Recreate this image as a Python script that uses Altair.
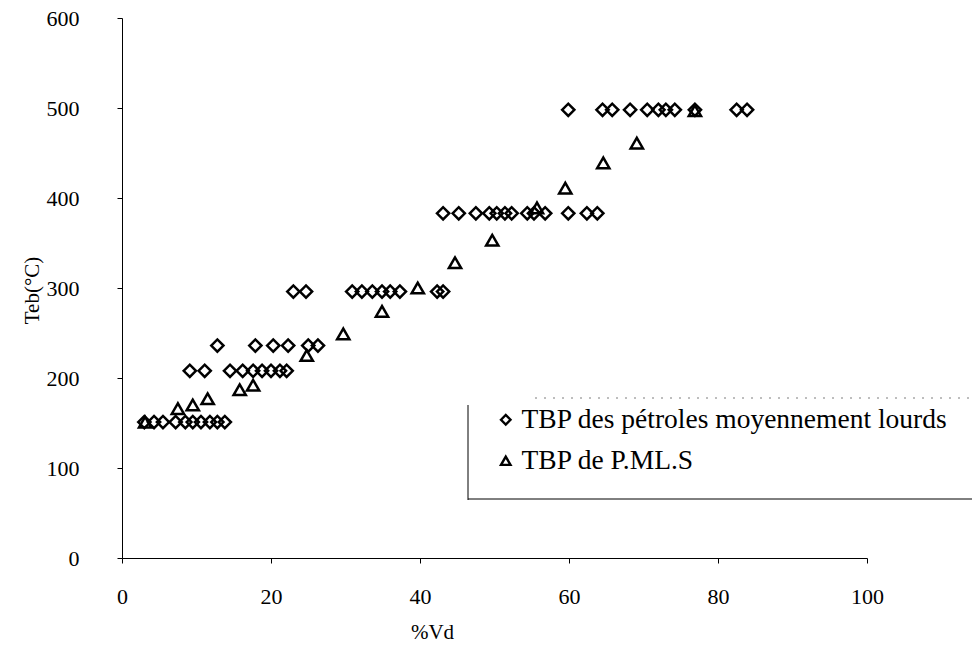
import altair as alt
import pandas as pd

# Boiling temperature (°C) vs distilled volume (%), two series
series_names = ["TBP des pétroles moyennement lourds", "TBP de P.ML.S"]

# Medium-heavy crudes: cut points grouped by temperature level
diamond_x = [3.0, 4.3, 5.5, 7.2, 8.5, 9.5, 10.6, 11.8, 12.8, 13.8,
             9.1, 11.1, 14.5, 16.2, 17.6, 18.8, 20.0, 21.2, 22.1,
             12.8, 17.9, 20.3, 22.3, 25.0, 26.3,
             23.0, 24.7, 30.9, 32.2, 33.6, 34.9, 36.0, 37.3, 42.3, 43.1,
             43.1, 45.2, 47.5, 49.3, 50.3, 51.4, 52.3, 54.4, 55.3, 56.8, 59.9, 62.4, 63.8,
             59.9, 64.5, 65.8, 68.2, 70.5, 72.0, 73.0, 74.2, 76.9, 82.5, 83.9]
diamond_y = [151] * 10 + [208] * 9 + [236] * 6 + [296] * 10 + [383] * 13 + [498] * 11

# P.ML.S curve
triangle_x = [3.1, 7.5, 9.5, 11.5, 15.8, 17.6, 24.8, 29.7, 34.9, 39.7,
              44.7, 49.7, 55.7, 59.5, 64.6, 69.1, 76.9]
triangle_y = [151, 166, 170, 177, 187, 192, 225, 249, 274, 300,
              328, 353, 389, 411, 439, 461, 497]

x_ticks = [0, 20, 40, 60, 80, 100]
y_ticks = [0, 100, 200, 300, 400, 500, 600]

df = pd.concat([
    pd.DataFrame({"vd": diamond_x, "teb": diamond_y, "serie": series_names[0]}),
    pd.DataFrame({"vd": triangle_x, "teb": triangle_y, "serie": series_names[1]}),
], ignore_index=True)

FONT = "Liberation Serif"

points = alt.Chart(df).mark_point(
    filled=False, color="black", strokeWidth=2.5, size=150, opacity=1
).encode(
    x=alt.X("vd:Q",
            scale=alt.Scale(domain=[0, 100], nice=False),
            axis=alt.Axis(values=x_ticks, title="%Vd", grid=False,
                          labelPadding=23, titleX=310, titleY=74,
                          titleAlign="center", titleBaseline="middle")),
    y=alt.Y("teb:Q",
            scale=alt.Scale(domain=[0, 600], nice=False),
            axis=alt.Axis(values=y_ticks, title="Teb(°C)", grid=False,
                          labelPadding=38, titleX=-90, titleY=272,
                          titleAngle=-90, titleAlign="center",
                          titleBaseline="middle")),
    shape=alt.Shape("serie:N",
                    scale=alt.Scale(domain=series_names,
                                    range=["diamond", "triangle-up"]),
                    legend=alt.Legend(orient="none", legendX=370, legendY=388,
                                      title=None, padding=0,
                                      labelFont=FONT, labelFontSize=27.5,
                                      labelColor="black", labelOffset=2,
                                      labelLimit=600,
                                      symbolSize=90, symbolStrokeWidth=2.4,
                                      symbolStrokeColor="black",
                                      symbolFillColor="transparent",
                                      rowPadding=12)),
)

one = pd.DataFrame({"k": [0]})

# Frame around the legend: left edge, bottom edge and faint dotted top
legend_left = alt.Chart(one).mark_rule(color="black", strokeWidth=1).encode(
    x=alt.value(346), y=alt.value(387), y2=alt.value(482))
legend_bottom = alt.Chart(one).mark_rule(color="black", strokeWidth=1).encode(
    x=alt.value(346), x2=alt.value(850), y=alt.value(481))
legend_top = alt.Chart(one).mark_rule(
    color="#444", strokeWidth=1, strokeDash=[2, 7], opacity=0.7
).encode(x=alt.value(413), x2=alt.value(850), y=alt.value(380))

chart = alt.layer(points, legend_left, legend_bottom, legend_top).properties(
    width=745, height=540,
    autosize=alt.AutoSizeParams(type="none"),
    padding={"left": 122, "top": 18, "right": 105, "bottom": 92},
).configure(
    background="white"
).configure_view(
    stroke=None
).configure_axis(
    domainColor="black", domainWidth=1, tickColor="black", tickSize=5,
    labelFont=FONT, labelFontSize=22, labelColor="black",
    titleFont=FONT, titleFontSize=21, titleFontWeight="normal",
    titleColor="black", labelFlush=False, grid=False,
)

chart.save("out.html", embed_options={"renderer": "svg", "actions": False})
